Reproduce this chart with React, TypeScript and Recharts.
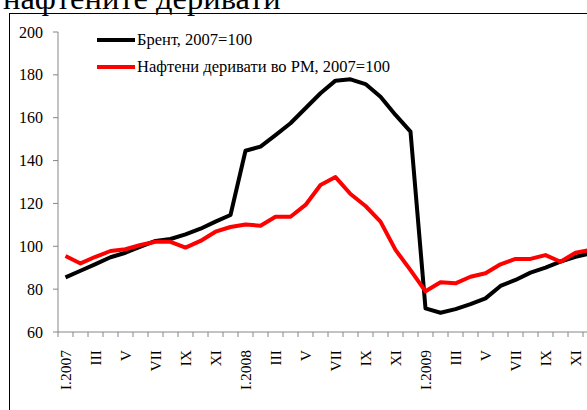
import { LineChart, Line, XAxis, YAxis } from "recharts";

// Jan 2007 .. Dec 2009, index 2007=100
const months = [
  "I.2007", "II", "III", "IV", "V", "VI", "VII", "VIII", "IX", "X", "XI", "XII",
  "I.2008", "II", "III", "IV", "V", "VI", "VII", "VIII", "IX", "X", "XI", "XII",
  "I.2009", "II", "III", "IV", "V", "VI", "VII", "VIII", "IX", "X", "XI", "XII",
];
const brent = [
  85.5, 88.6, 91.7, 94.9, 97, 99.8, 102.5, 103.4, 105.6, 108.2, 111.5, 114.6,
  144.6, 146.5, 151.9, 157.4, 164.4, 171.4, 177.3, 177.9, 175.7, 169.8, 161.3, 153.5,
  71, 69, 70.7, 73, 75.7, 81.5, 84.3, 87.7, 90, 92.8, 95.1, 96.7,
];
const derivati = [
  95.5, 92, 95.1, 97.8, 98.6, 100.6, 102.1, 102.1, 99.4, 102.5, 106.8, 109,
  110.2, 109.6, 113.8, 113.8, 119.3, 128.6, 132.3, 124.4, 118.8, 111.5, 98.3, 88.9,
  79, 83.2, 82.7, 85.8, 87.4, 91.6, 94.1, 94.1, 95.9, 92.8, 97, 98.3,
];
const yTicks = [60, 80, 100, 120, 140, 160, 180, 200];
const seriesNames = ["Брент, 2007=100", "Нафтени деривати во РМ, 2007=100"];
const colors = ["#000000", "#FF0000"];

const data = months.map((m, i) => ({
  i,
  month: m,
  brent: brent[i],
  derivati: derivati[i],
}));

// tick marks sit between months
const boundaries = months.map((_, i) => i - 0.5).concat([months.length - 0.5]);

const FONT = "'Liberation Serif', 'Times New Roman', serif";
const STEP = 15; // px per month

const MonthTick = (props: any) => {
  const { x, y, payload } = props;
  const idx = payload.value + 0.5;
  if (idx % 2 !== 0 || idx >= months.length) return null;
  return (
    <g transform={`translate(${x + STEP / 2},${y + 11})`}>
      <text
        transform="rotate(-90)"
        textAnchor="end"
        dy="0.35em"
        fill="#000"
        fontSize={15.5}
        fontFamily={FONT}
      >
        {months[idx]}
      </text>
    </g>
  );
};

const ValueTick = (props: any) => {
  const { x, y, payload } = props;
  return (
    <text
      x={x}
      y={y}
      dy="0.35em"
      textAnchor="end"
      fill="#000"
      fontSize={16}
      fontFamily={FONT}
    >
      {payload.value}
    </text>
  );
};

const ChartLegend = () => (
  <div
    style={{
      position: "absolute",
      left: 87,
      top: 12.5,
      fontFamily: FONT,
      fontSize: 16.5,
      color: "#000",
    }}
  >
    {seriesNames.map((name, k) => (
      <div
        key={name}
        style={{ display: "flex", alignItems: "center", height: 27, whiteSpace: "nowrap" }}
      >
        <span
          style={{
            display: "inline-block",
            width: 38,
            height: 4,
            background: colors[k],
            marginRight: 2,
          }}
        />
        <span>{name}</span>
      </div>
    ))}
  </div>
);

export default function App() {
  return (
    <div
      style={{
        position: "absolute",
        left: 0,
        top: 0,
        width: 587,
        height: 410,
        overflow: "hidden",
        background: "#fff",
      }}
    >
      <div
        style={{
          position: "absolute",
          left: 3,
          top: -18,
          fontFamily: FONT,
          fontSize: 32.5,
          lineHeight: "33px",
          whiteSpace: "nowrap",
        }}
      >
        нафтените деривати
      </div>
      <div
        style={{
          position: "absolute",
          left: 9,
          top: 13,
          width: 640,
          height: 440,
          border: "1px solid #000",
        }}
      >
        <LineChart
          width={600}
          height={420}
          data={data}
          margin={{ top: 18, right: 12, bottom: 22, left: 0 }}
          style={{ fontFamily: FONT }}
        >
          <XAxis
            dataKey="i"
            type="number"
            domain={[-0.5, months.length - 0.5]}
            ticks={boundaries}
            interval={0}
            height={80}
            tickSize={5}
            stroke="#868686"
            tick={<MonthTick />}
          />
          <YAxis
            domain={[60, 200]}
            ticks={yTicks}
            interval={0}
            width={48}
            tickSize={5}
            tickMargin={10}
            stroke="#868686"
            tick={<ValueTick />}
          />
          <Line
            dataKey="brent"
            name={seriesNames[0]}
            stroke={colors[0]}
            strokeWidth={4}
            dot={false}
            strokeLinejoin="round"
            isAnimationActive={false}
          />
          <Line
            dataKey="derivati"
            name={seriesNames[1]}
            stroke={colors[1]}
            strokeWidth={4}
            dot={false}
            strokeLinejoin="round"
            isAnimationActive={false}
          />
        </LineChart>
        <ChartLegend />
      </div>
    </div>
  );
}
